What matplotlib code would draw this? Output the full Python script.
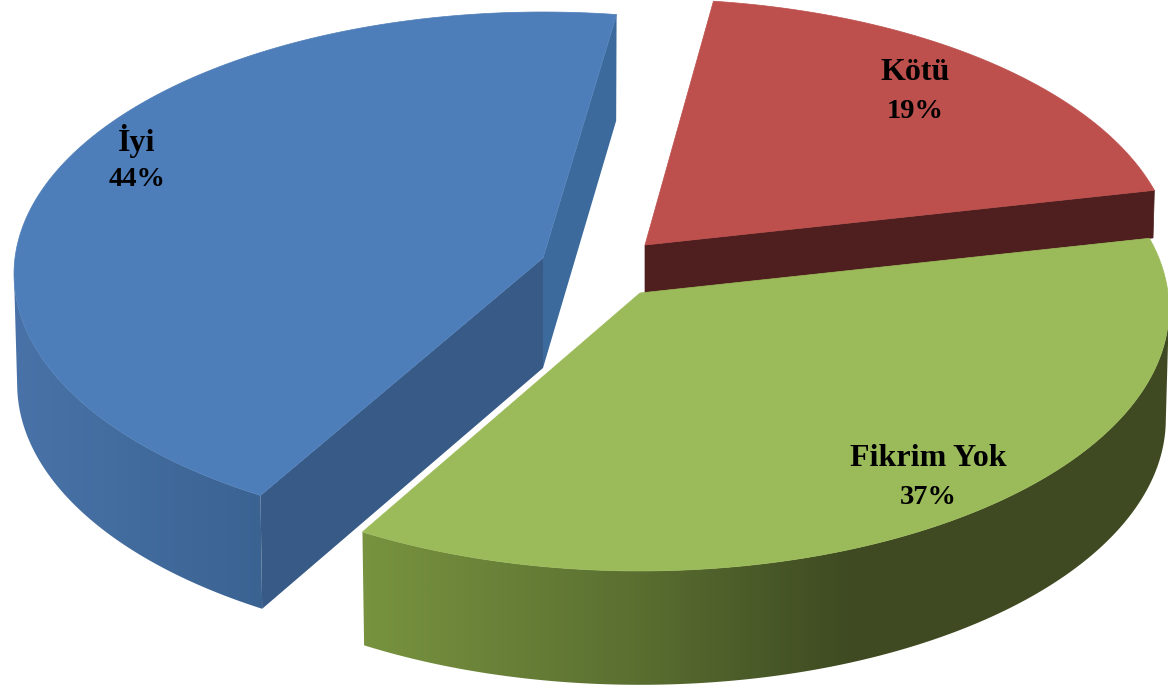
"""
Pasta 3D em perspectiva: Iyi / Kotu / Fikrim Yok
"""
import numpy as np
import matplotlib
matplotlib.use('Agg')
import matplotlib.pyplot as plt
from matplotlib.colors import LinearSegmentedColormap
from matplotlib.patches import Polygon

# Data
names = ['Kötü', 'Fikrim Yok', 'İyi']
values = [19.4, 36.7, 43.9]
labels = ['19%', '37%', '44%']

# Look of each slice (pixel layout of the picture)
start_angle = 7.9
angle_shift = [0., 0., 0.6]  # exploded blue slice sits a bit rotated
centers = [(645, 245), (640, 293), (543, 258)]
depths = [48, 110, 110]
top_colors = ['#bd504d', '#9bba59', '#4e7eb9']
label_pos = [(915, 72), (928, 459), (137, 141)]

rx = 528.
ry = 261.
persp = 0.061


def project(cx, cy, theta, depth=0.):
    # disk -> screen, far side of the disk gets smaller
    u = np.sin(np.radians(theta))
    v = np.cos(np.radians(theta))
    w = 1 + persp*v
    shrink = 1 - 0.006*depth/110.
    return cx + shrink*rx*u/w, cy - ry*v/w + depth*(1 - 0.035*v)


def gradient_wall(ax, pts, colors):
    # Shaded wall: horizontal gradient clipped to the wall outline
    cmap = LinearSegmentedColormap.from_list('wall', colors)
    poly = Polygon(pts, closed=True, fc='none', ec='none')
    ax.add_patch(poly)
    img = ax.imshow(np.linspace(0, 1, 256).reshape(1, -1), cmap=cmap, aspect='auto',
                    extent=(pts[:, 0].min(), pts[:, 0].max(), 700, 0),
                    interpolation='bilinear', zorder=1)
    img.set_clip_path(poly)


fig = plt.figure(figsize=(11.68, 6.88), dpi=100)
ax = fig.add_axes([0, 0, 1, 1])

bounds = start_angle + np.cumsum([0] + values)*3.6
arcs = []
for k in range(3):
    th = np.linspace(bounds[k], bounds[k + 1], 300) + angle_shift[k]
    cx, cy = centers[k]
    xt, yt = project(cx, cy, th)
    xb, yb = project(cx, cy, th, depths[k])
    arcs.append((xt, yt, xb, yb))

# Outer walls, only the visible part of the arc
xt, yt, xb, yb = arcs[1]
i, j = np.argmax(xt), np.argmax(xb)
wall = np.vstack([np.c_[xt[i:], yt[i:]], np.c_[xb[j:], yb[j:]][::-1]])
gradient_wall(ax, wall, [(0, '#78933f'), (0.33, '#5b7031'), (0.6, '#3f4b22'), (1, '#3f4a22')])

xt, yt, xb, yb = arcs[2]
i, j = np.argmin(xt), np.argmin(xb)
wall = np.vstack([np.c_[xt[:i], yt[:i]], np.c_[xb[:j], yb[:j]][::-1]])
gradient_wall(ax, wall, ['#4973a8', '#3b6392'])

# Inner faces
xt, yt, xb, yb = arcs[0]
ax.add_patch(Polygon([(645, 245), (xt[-1], yt[-1]), (xb[-1], yb[-1]), (645, 245 + depths[0])],
                     closed=True, fc='#4e1f1e', ec='#4e1f1e', lw=0.5, zorder=2))
xt, yt, xb, yb = arcs[2]
ax.add_patch(Polygon([(543, 258), (xt[-1], yt[-1]), (xb[-1], yb[-1]), (543, 258 + depths[2])],
                     closed=True, fc='#3d6a9c', ec='none', zorder=2))
ax.add_patch(Polygon([(543, 258), (xt[0], yt[0]), (xb[0], yb[0]), (543, 258 + depths[2])],
                     closed=True, fc='#385a86', ec='none', zorder=2))

# Top surfaces
for k in range(3):
    xt, yt = arcs[k][:2]
    top = np.vstack([np.c_[xt, yt], [centers[k]]])
    ax.add_patch(Polygon(top, closed=True, fc=top_colors[k], ec=top_colors[k], lw=0.5, zorder=3))

# Labels
for k in range(3):
    x, y = label_pos[k]
    ax.text(x, y, names[k], ha='center', va='center', fontsize=23, fontweight='bold',
            family='Liberation Serif', color='black', zorder=4)
    ax.text(x, y + 39, labels[k], ha='center', va='center', fontsize=20.5, fontweight='bold',
            family='Liberation Serif', color='black', zorder=4)

ax.set_xlim(0, 1168)
ax.set_ylim(688, 0)
ax.axis('off')

plt.savefig('out.png', dpi=100)
